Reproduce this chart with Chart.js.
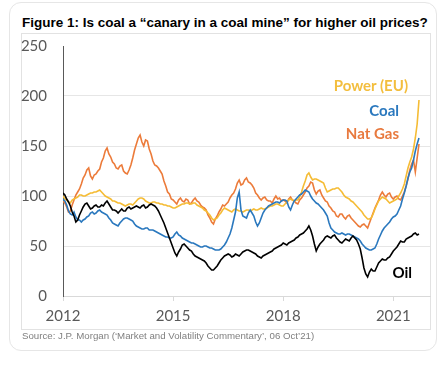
<!DOCTYPE html>
<html>
<head>
<meta charset="utf-8">
<script src="https://cdn.jsdelivr.net/npm/chart.js@4.4.1/dist/chart.umd.min.js"></script>
<style>
  html, body { margin: 0; padding: 0; background: #ffffff; }
  body { width: 446px; height: 366px; position: relative; overflow: hidden; }
  .outer { position: absolute; left: 9px; top: 2px; width: 426px; height: 347px; border: 1px solid #e6e6e6; border-radius: 12px; }
  .inner { position: absolute; left: 21px; top: 33px; width: 408px; height: 295px; border: 1px solid #e2e2e2; }
  .title { position: absolute; left: 22px; top: 15px; font: bold 13.5px "Liberation Sans", Arial, sans-serif; color: #000; white-space: nowrap; }
  .source { position: absolute; left: 22px; top: 330px; font: 9.7px "Liberation Sans", Arial, sans-serif; color: #7f7f7f; white-space: nowrap; }
  canvas { position: absolute; left: 0; top: 0; }
  .lbl { position: absolute; font: bold 15px Lato, sans-serif; line-height: 15px; white-space: nowrap; }
</style>
</head>
<body>
<div class="outer"></div>
<div class="inner"></div>
<div class="title">Figure 1: Is coal a “canary in a coal mine” for higher oil prices?</div>
<canvas id="c" width="446" height="366"></canvas>
<div class="lbl" style="right:38px; top:78px; color:#F3BE3E;">Power (EU)</div>
<div class="lbl" style="right:47px; top:103px; color:#2A78BE;">Coal</div>
<div class="lbl" style="right:47px; top:126px; color:#E87A3F;">Nat Gas</div>
<div class="lbl" style="right:34px; top:265px; color:#000000;">Oil</div>
<div class="source">Source: J.P. Morgan (‘Market and Volatility Commentary’, 06 Oct’21)</div>
<script>
const years = [
  2012.00,2012.05,2012.10,2012.15,2012.20,2012.25,2012.30,2012.35,2012.40,2012.45,2012.50,2012.55,2012.60,2012.65,2012.70,2012.75,2012.80,2012.85,2012.90,2012.95,
  2013.00,2013.05,2013.10,2013.15,2013.20,2013.25,2013.30,2013.35,2013.40,2013.45,2013.50,2013.55,2013.60,2013.65,2013.70,2013.75,2013.80,2013.85,2013.90,2013.95,
  2014.00,2014.05,2014.10,2014.15,2014.20,2014.25,2014.30,2014.35,2014.40,2014.45,2014.50,2014.55,2014.60,2014.65,2014.70,2014.75,2014.80,2014.85,2014.90,2014.95,
  2015.00,2015.05,2015.10,2015.15,2015.20,2015.25,2015.30,2015.35,2015.40,2015.45,2015.50,2015.55,2015.60,2015.65,2015.70,2015.75,2015.80,2015.85,2015.90,2015.95,
  2016.00,2016.05,2016.10,2016.15,2016.20,2016.25,2016.30,2016.35,2016.40,2016.45,2016.50,2016.55,2016.60,2016.65,2016.70,2016.75,2016.80,2016.85,2016.90,2016.95,
  2017.00,2017.05,2017.10,2017.15,2017.20,2017.25,2017.30,2017.35,2017.40,2017.45,2017.50,2017.55,2017.60,2017.65,2017.70,2017.75,2017.80,2017.85,2017.90,2017.95,
  2018.00,2018.05,2018.10,2018.15,2018.20,2018.25,2018.30,2018.35,2018.40,2018.45,2018.50,2018.55,2018.60,2018.65,2018.70,2018.75,2018.80,2018.85,2018.90,2018.95,
  2019.00,2019.05,2019.10,2019.15,2019.20,2019.25,2019.30,2019.35,2019.40,2019.45,2019.50,2019.55,2019.60,2019.65,2019.70,2019.75,2019.80,2019.85,2019.90,2019.95,
  2020.00,2020.05,2020.10,2020.15,2020.20,2020.25,2020.30,2020.35,2020.40,2020.45,2020.50,2020.55,2020.60,2020.65,2020.70,2020.75,2020.80,2020.85,2020.90,2020.95,
  2021.00,2021.05,2021.10,2021.15,2021.20,2021.25,2021.30,2021.35,2021.40,2021.45,2021.50,2021.55,2021.60,2021.65,2021.70
];
const natGas = [
  95,93,89,84,85,91,96,101,104,107,112,118,121,126,128,120,117,121,122,125,
  127,134,138,145,148,142,139,134,132,128,127,130,131,125,123,122,126,131,138,146,
  152,158,161,154,150,156,155,147,142,135,131,130,128,125,122,115,110,104,102,97,
  96,94,92,96,98,95,94,97,96,92,93,96,98,95,94,91,89,88,86,81,
  78,74,72,77,80,84,87,91,90,92,94,98,101,103,107,113,116,111,112,116,
  118,114,113,111,108,103,101,98,96,98,99,96,95,95,93,97,100,97,98,95,
  96,95,93,97,99,96,95,93,92,96,98,101,104,108,110,114,113,106,102,105,
  106,101,98,95,94,90,88,85,84,80,79,82,82,79,77,80,81,78,76,74,
  72,70,69,71,72,70,68,73,78,83,88,92,96,101,104,101,99,102,103,99,
  97,99,100,97,96,100,104,110,117,126,132,136,124,138,152
];
const power = [
  100,97,96,94,93,96,97,98,99,101,101,100,100,101,102,103,103,104,104,105,
  106,104,102,100,99,98,97,95,95,94,93,93,92,91,90,91,92,92,91,93,
  95,97,98,98,97,95,94,93,93,94,94,93,93,92,92,91,91,90,90,89,
  88,88,89,90,91,92,92,93,93,92,92,93,93,91,90,89,88,86,85,83,
  81,78,76,77,78,81,83,86,88,87,86,85,84,86,87,86,85,85,84,85,
  86,86,85,86,87,86,86,87,88,87,87,88,89,90,90,91,92,92,91,90,
  90,92,94,96,97,96,95,96,96,99,104,110,115,121,123,119,116,117,117,116,
  115,114,113,108,104,105,106,107,107,108,108,106,104,101,99,98,97,95,94,92,
  90,88,86,84,81,79,77,77,78,82,87,91,95,97,99,98,97,95,93,94,
  95,96,97,100,103,107,112,120,128,134,139,147,158,172,196
];
const coal = [
  97,95,91,85,82,81,84,79,76,76,74,76,77,79,80,83,84,82,83,85,
  86,84,83,82,81,78,76,73,72,71,70,73,75,77,78,78,77,76,75,72,
  70,69,68,67,67,68,68,66,66,66,65,64,63,62,61,60,59,59,58,58,
  59,62,64,61,60,58,57,56,55,54,53,53,52,51,50,49,49,50,50,49,
  48,48,47,46,46,46,47,49,51,54,58,62,68,76,84,98,104,86,80,79,
  78,83,86,83,80,74,70,73,78,83,86,88,90,91,92,93,94,94,93,95,
  96,96,95,89,86,91,95,97,99,101,102,104,106,105,104,100,97,95,93,92,
  90,88,86,83,80,73,68,66,64,63,62,62,63,62,61,62,62,61,60,59,
  58,57,55,52,50,48,47,46,46,47,48,52,57,61,65,68,70,72,74,77,
  79,80,82,86,90,97,103,110,118,124,128,136,145,152,158
];
const oil = [
  103,101,97,94,90,84,80,74,76,81,85,89,92,93,90,87,88,90,91,89,
  89,91,90,93,95,92,89,86,86,85,83,85,87,85,85,88,89,87,88,89,
  90,89,88,90,91,88,89,91,92,91,90,88,85,81,77,73,68,63,58,53,
  48,43,40,44,47,51,52,50,48,46,45,42,40,39,38,37,36,35,33,30,
  28,26,26,28,30,33,36,38,40,41,42,41,39,40,42,41,40,42,44,45,
  46,46,45,44,43,42,40,39,38,40,41,42,43,44,45,47,48,49,50,51,
  53,52,51,53,54,55,56,58,59,61,62,63,65,67,70,66,60,52,45,49,
  52,54,56,59,60,59,58,60,61,58,56,54,53,55,57,56,55,58,60,58,
  56,52,47,38,28,22,19,24,27,25,25,29,33,35,37,36,36,38,39,42,
  45,47,49,52,55,54,54,57,58,59,60,62,63,61,62
];
const xTickYears = [2012, 2015, 2018, 2021];
const yTicks = [0, 50, 100, 150, 200, 250];

const toXY = arr => arr.map((v, i) => ({ x: years[i], y: v }));

const tickFont = { family: 'Lato', size: 15 };
const tickColor = '#595959';

new Chart(document.getElementById('c'), {
  type: 'line',
  data: {
    datasets: [
      { label: 'Oil', data: toXY(oil), borderColor: '#000000' },
      { label: 'Coal', data: toXY(coal), borderColor: '#2A78BE' },
      { label: 'Power (EU)', data: toXY(power), borderColor: '#F5BC35' },
      { label: 'Nat Gas', data: toXY(natGas), borderColor: '#EC7B3A' }
    ].map(d => Object.assign(d, { borderWidth: 1.6, pointRadius: 0, tension: 0, fill: false }))
  },
  options: {
    responsive: false,
    devicePixelRatio: 1,
    animation: false,
    layout: { padding: { left: 0, top: 46, right: 16, bottom: 38 } },
    plugins: { legend: { display: false }, tooltip: { enabled: false }, title: { display: false } },
    scales: {
      x: {
        type: 'linear',
        min: 2012, max: 2022,
        afterBuildTicks: s => { s.ticks = xTickYears.map(v => ({ value: v })); },
        afterFit: s => { s.height = 32; },
        grid: { display: true, drawOnChartArea: false, drawTicks: true, tickLength: 5, color: '#d9d9d9' },
        border: { display: true, color: '#d9d9d9', width: 1 },
        ticks: { font: tickFont, color: tickColor, padding: 6, maxRotation: 0, callback: v => String(v) }
      },
      y: {
        min: 0, max: 250,
        afterBuildTicks: s => { s.ticks = yTicks.map(v => ({ value: v })); },
        afterFit: s => { s.width = 63; },
        grid: { drawTicks: false, color: ctx => (ctx.tick && ctx.tick.value === 250) ? 'rgba(0,0,0,0)' : '#e6e6e6' },
        border: { display: true, color: '#595959', width: 1 },
        ticks: { font: tickFont, color: tickColor, padding: 16 }
      }
    }
  }
});
</script>
</body>
</html>
